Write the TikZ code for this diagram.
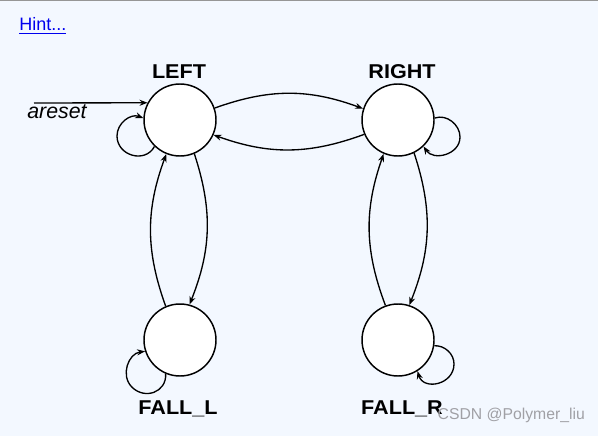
\documentclass[tikz,border=0pt]{standalone}
\usepackage{fontspec}
\setmainfont{Liberation Sans}
\newfontfamily\labfont[FakeStretch=1.08]{Liberation Sans}
\usetikzlibrary{arrows.meta}
\definecolor{bgblue}{RGB}{243,248,255}
\definecolor{topgray}{RGB}{150,150,150}
\definecolor{linkblue}{RGB}{0,0,238}
\definecolor{wmgray}{RGB}{160,160,165}
\tikzset{
  state/.style={circle, draw=black, fill=white, line width=1.1pt, minimum size=54pt, inner sep=0pt},
  slabel/.style={font=\labfont\fontsize{15}{17}\selectfont\bfseries},
  trans/.style={draw=black, line width=1pt, -{Stealth[length=6pt,width=4.5pt]}},
}
\begin{document}
\begin{tikzpicture}[x=0.75pt,y=0.75pt]
\useasboundingbox (0,0) rectangle (598,436);
\fill[bgblue] (0,0) rectangle (598,436);
\fill[topgray] (0,434.5) rectangle (598,436);
\node[anchor=base west, text=linkblue, font=\fontsize{13.5}{16}\selectfont, inner sep=0pt] (hint) at (19,405) {\underline{Hint...}};

\node[state] (L) at (180,316) {};
\node[state] (R) at (398,316) {};
\node[state] (FL) at (180,96) {};
\node[state] (FR) at (398,96) {};

\node[slabel] (tL) at (179,364) {LEFT};
\node[slabel] (tR) at (402,364) {RIGHT};
\node[slabel] (tFL) at (178,27) {FALL\_L};
\node[slabel] (tFR) at (402,27) {FALL\_R};

\coordinate (rs) at (34,333);
\draw[trans] (rs) -- (L.152);
\node[font=\fontsize{16}{18}\selectfont\itshape] (ar) at (57,324) {areset};

% loop waypoints
\coordinate (wL) at ([shift={(-63,-16)}]L.center);
\coordinate (wR) at ([shift={(62,-17)}]R.center);
\coordinate (wFL) at ([shift={(-48.1,-47.1)}]FL.center);
\coordinate (wFR) at ([shift={(56,-24)}]FR.center);

% self loops
\draw[trans] (L.226) .. controls +(-118:19.8) and +(-90:19.8) .. (wL)
                     .. controls +(90:13.3) and +(159:13.3) .. (L.177);
\draw[trans] (R.3) .. controls +(20:12.5) and +(90:12.5) .. (wR)
                   .. controls +(-90:17.8) and +(-56.4:17.8) .. (R.-46);
\draw[trans] (FL.247) .. controls +(-86.4:18.4) and +(-45:18.4) .. (wFL)
                      .. controls +(135:16.7) and +(187:16.7) .. (FL.198);
\draw[trans] (FR.-9) .. controls +(3:10.3) and +(90:10.3) .. (wFR)
                     .. controls +(-90:20.7) and +(-73:20.7) .. (FR.-58);

% transitions
\draw[trans] (L.19) to[bend left=20] (R.162);
\draw[trans] (R.203) to[bend left=20] (L.-24);
\draw[trans] (L.-67) to[bend left=20] (FL.75);
\draw[trans] (FL.113) to[bend left=20] (L.248);
\draw[trans] (R.-64) to[bend left=20] (FR.72);
\draw[trans] (FR.110) to[bend left=20] (R.247);

\node[anchor=west, text=wmgray, font=\fontsize{11.8}{14}\selectfont] (wm) at (433,21) {CSDN @Polymer\_liu};
\end{tikzpicture}
\end{document}
